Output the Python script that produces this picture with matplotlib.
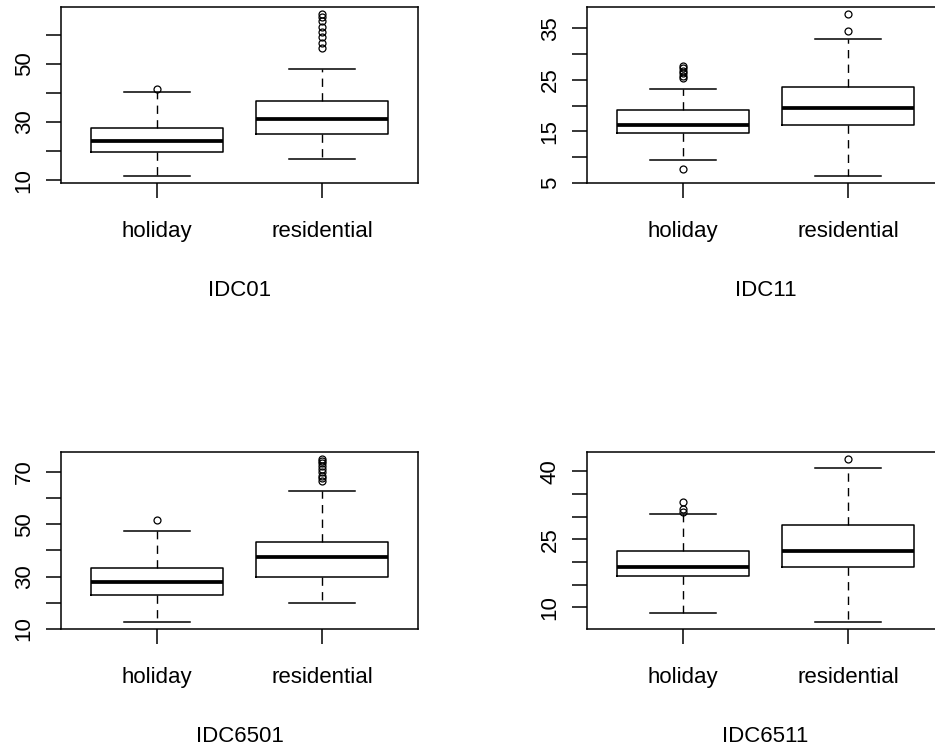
import matplotlib
matplotlib.use('Agg')
import matplotlib.pyplot as plt

plt.rcParams['font.family'] = ['Liberation Sans', 'DejaVu Sans']

# groups on the x axis
categories = ['holiday', 'residential']
panel_names = ['IDC01', 'IDC11', 'IDC6501', 'IDC6511']

# box stats: [holiday, residential]
q1 = {
    'IDC01': [19.7, 26.0],
    'IDC11': [14.8, 16.2],
    'IDC6501': [22.9, 30.0],
    'IDC6511': [16.9, 18.9],
}
med = {
    'IDC01': [23.6, 31.0],
    'IDC11': [16.2, 19.5],
    'IDC6501': [27.8, 37.6],
    'IDC6511': [19.0, 22.5],
}
q3 = {
    'IDC01': [27.8, 37.1],
    'IDC11': [19.1, 23.6],
    'IDC6501': [33.4, 43.2],
    'IDC6511': [22.5, 28.2],
}
whisker_lo = {
    'IDC01': [11.3, 17.4],
    'IDC11': [9.5, 6.3],
    'IDC6501': [12.5, 20.0],
    'IDC6511': [8.7, 6.7],
}
whisker_hi = {
    'IDC01': [40.2, 48.3],
    'IDC11': [23.3, 33.0],
    'IDC6501': [47.5, 62.7],
    'IDC6511': [30.6, 40.8],
}
outliers = {
    'IDC01': [[41.5],
              [55.3, 57.2, 59.2, 60.9, 62.8, 64.8, 66.1, 67.3]],
    'IDC11': [[7.8, 25.3, 25.8, 26.3, 26.8, 27.3, 27.8],
              [34.6, 37.9]],
    'IDC6501': [[51.6],
                [66.4, 67.5, 68.6, 69.8, 71.0, 72.1, 73.3, 74.3, 75.1]],
    'IDC6511': [[31.1, 31.7, 33.2],
                [42.8]],
}

# y ticks and which ones carry a label
y_ticks = {
    'IDC01': [10, 20, 30, 40, 50, 60],
    'IDC11': [5, 10, 15, 20, 25, 30, 35],
    'IDC6501': [10, 20, 30, 40, 50, 60, 70],
    'IDC6511': [10, 15, 20, 25, 30, 35, 40],
}
y_labels = {
    'IDC01': [10, 30, 50],
    'IDC11': [5, 15, 25, 35],
    'IDC6501': [10, 30, 50, 70],
    'IDC6511': [10, 25, 40],
}

W, H = 935, 751
# panel boxes in pixels: left, top, right, bottom
panel_px = {
    'IDC01': (61, 7, 418, 183),
    'IDC11': (587, 7, 944, 183),
    'IDC6501': (61, 452, 418, 629),
    'IDC6511': (587, 452, 944, 629),
}


def make_stats(name):
    stats = []
    for i, cat in enumerate(categories):
        stats.append({
            'label': cat,
            'q1': q1[name][i],
            'med': med[name][i],
            'q3': q3[name][i],
            'whislo': whisker_lo[name][i],
            'whishi': whisker_hi[name][i],
            'fliers': outliers[name][i],
        })
    return stats


def draw_panel(fig, name):
    l, t, r, b = panel_px[name]
    ax = fig.add_axes([l / W, 1 - b / H, (r - l) / W, (b - t) / H])
    ax.bxp(make_stats(name), positions=[1, 2], widths=0.8, capwidths=0.4,
           boxprops=dict(color='black', linewidth=1.1),
           medianprops=dict(color='black', linewidth=2.7, solid_capstyle='butt'),
           whiskerprops=dict(color='black', linewidth=1.0, linestyle=(0, (6, 4.5))),
           capprops=dict(color='black', linewidth=1.1),
           flierprops=dict(marker='o', markerfacecolor='none', markeredgecolor='black',
                           markersize=5, markeredgewidth=0.9, linestyle='none'))

    lo = min(min(whisker_lo[name]), min(min(o) for o in outliers[name]))
    hi = max(max(whisker_hi[name]), max(max(o) for o in outliers[name]))
    pad = (hi - lo) * 0.04
    ax.set_ylim(lo - pad, hi + pad)
    ax.set_xlim(0.42, 2.58)

    ticks = y_ticks[name]
    ax.set_yticks(ticks)
    ax.set_yticklabels([str(v) if v in y_labels[name] else '' for v in ticks],
                       rotation=90, va='center')
    ax.set_xticks([1, 2])
    ax.set_xticklabels(categories, va='baseline')
    ax.tick_params(axis='both', length=11, width=1.1, labelsize=16, color='black')
    ax.tick_params(axis='y', pad=8)
    ax.tick_params(axis='x', pad=27.6)
    for sp in ax.spines.values():
        sp.set_linewidth(1.1)
        sp.set_color('black')
    # x title, baseline ~112 px under the frame like in R
    ax.annotate(name, xy=(0.5, 0), xycoords='axes fraction',
                xytext=(0, -81), textcoords='offset points',
                ha='center', va='baseline', fontsize=16)
    return ax


fig = plt.figure(figsize=(W / 100, H / 100), dpi=100)
for name in panel_names:
    draw_panel(fig, name)

fig.savefig('out.png', dpi=100)
